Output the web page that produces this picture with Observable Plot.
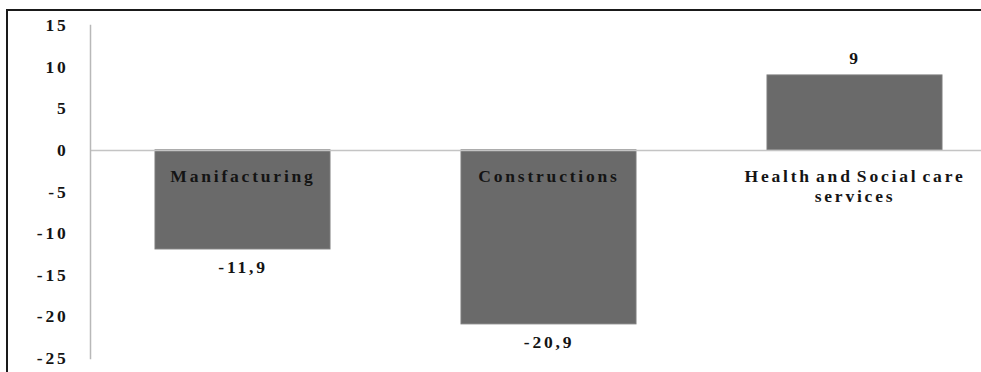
<!DOCTYPE html>
<html>
<head>
<meta charset="utf-8">
<script src="https://cdn.jsdelivr.net/npm/d3@7"></script>
<script src="https://cdn.jsdelivr.net/npm/@observablehq/plot@0.6"></script>
<style>
  html, body { margin: 0; padding: 0; background: #fff; }
  #wrap { position: relative; width: 981px; height: 372px; overflow: hidden; }
  #wrap svg { display: block; }
  #wrap svg text { font-family: "Liberation Serif", "Times New Roman", serif !important; }
  #border {
    position: absolute; left: 6px; top: 9px; right: 0; bottom: 0;
    border-top: 2px solid #1a1a1a; border-left: 2px solid #1a1a1a;
    pointer-events: none;
  }
</style>
</head>
<body>
<div id="wrap"><div id="border"></div></div>
<script>
// Change by sector (%)
const categories = ["Manifacturing", "Constructions", "Health and Social care\nservices"];
const values = [-11.9, -20.9, 9];
const yTicks = [15, 10, 5, 0, -5, -10, -15, -20, -25];

const data = categories.map((c, i) => ({category: c, value: values[i]}));
const fmt = v => String(v).replace(".", ",");

const textStyle = {fontFamily: "Liberation Serif", fontSize: 17.5, fontWeight: "bold", fill: "#141414"};

const chart = Plot.plot({
  width: 981,
  height: 372,
  marginLeft: 90,
  marginRight: 0,
  marginTop: 25,
  marginBottom: 14,
  style: "font-family: 'Liberation Serif', serif; font-size: 17.5px; font-weight: bold; letter-spacing: 2.8px; word-spacing: -3px; color: #141414; background: #fff;",
  x: {domain: categories, range: [90, 1008], paddingInner: 0.428, paddingOuter: 0.214, axis: null},
  y: {domain: [-25, 15], ticks: yTicks, label: null},
  marks: [
    Plot.barY(data, {x: "category", y: "value", fill: "#6a6a6a", stroke: "#7c7c7c", strokeWidth: 1}),
    Plot.ruleY([0], {stroke: "#c4c4c4", strokeWidth: 1.5}),
    Plot.frame({anchor: "left", stroke: "#b8b8b8", strokeWidth: 1.5}),
    Plot.axisY({ticks: yTicks, tickSize: 0, tickPadding: 22, tickFormat: d => String(d), label: null, ...textStyle}),
    // category names sit just under the zero line
    Plot.text(data, {x: "category", y: () => 0, text: "category", lineAnchor: "top", dy: 17, lineHeight: 1.15, ...textStyle}),
    // value labels outside the bar ends
    Plot.text(data.filter(d => d.value >= 0), {x: "category", y: "value", text: d => fmt(d.value), lineAnchor: "bottom", dy: -11, ...textStyle}),
    Plot.text(data.filter(d => d.value < 0), {x: "category", y: "value", text: d => fmt(d.value), lineAnchor: "top", dy: 11, ...textStyle})
  ]
});

document.getElementById("wrap").prepend(chart);
</script>
</body>
</html>
